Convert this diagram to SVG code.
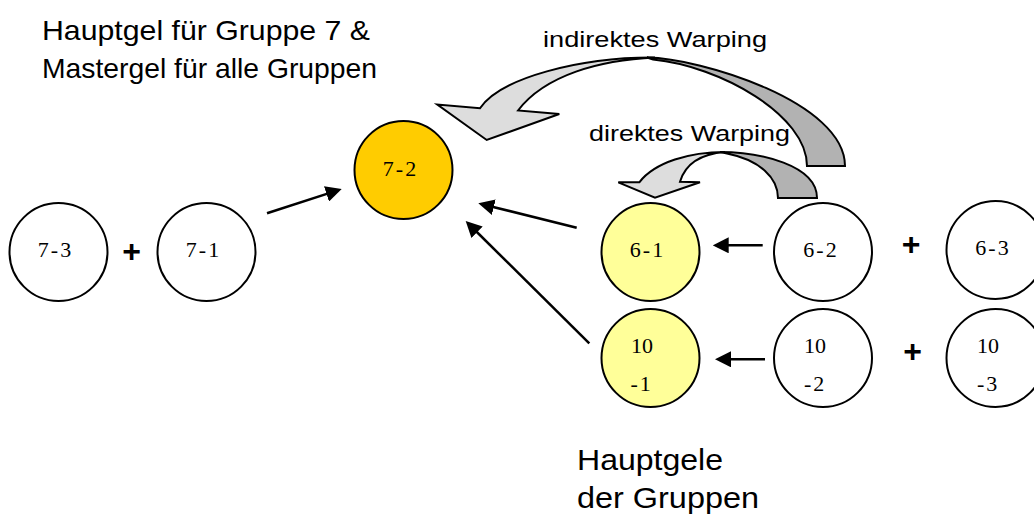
<svg xmlns="http://www.w3.org/2000/svg" width="1034" height="516" viewBox="0 0 1034 516">
<style>
.c{stroke:#000;stroke-width:2}
.w{fill:#fff}
.y{fill:#FFFF99}
.o{fill:#FFCC00}
.n{font-family:"Liberation Serif","Times New Roman",serif;font-size:22px;fill:#000}
.d{letter-spacing:2px}
.m{text-anchor:middle}
.s{font-family:"Liberation Sans",Arial,sans-serif;fill:#000}
.plus{font-family:"Liberation Sans",Arial,sans-serif;font-weight:bold;font-size:32px;text-anchor:middle}
.ln{stroke:#000;stroke-width:2.5;fill:none;marker-end:url(#ah)}
.lt{fill:#DDDDDD;stroke:#000;stroke-width:2;stroke-linejoin:miter}
.dk{fill:#B2B2B2;stroke:#000;stroke-width:2}
</style>
<defs>
<marker id="ah" markerUnits="userSpaceOnUse" viewBox="0 0 16 16" refX="6" refY="8" markerWidth="16" markerHeight="16" orient="auto">
<path d="M0,0 L16,8 L0,16 Z" fill="#000"/>
</marker>
</defs>
<rect width="1034" height="516" fill="#fff"/>
<g id="labels">
<text class="s" x="42" y="40" font-size="28.5" textLength="328" lengthAdjust="spacingAndGlyphs">Hauptgel für Gruppe 7 &amp;</text>
<text class="s" x="42" y="78" font-size="28.5" textLength="335" lengthAdjust="spacingAndGlyphs">Mastergel für alle Gruppen</text>
<text class="s" x="543" y="47" font-size="22" textLength="224" lengthAdjust="spacingAndGlyphs">indirektes Warping</text>
<text class="s" x="589" y="141" font-size="22" textLength="201" lengthAdjust="spacingAndGlyphs">direktes Warping</text>
<text class="s" x="577" y="470" font-size="29" textLength="146" lengthAdjust="spacingAndGlyphs">Hauptgele</text>
<text class="s" x="577" y="508" font-size="29" textLength="182" lengthAdjust="spacingAndGlyphs">der Gruppen</text>
<text class="plus" x="131.5" y="262">+</text>
<text class="plus" x="911" y="254.5">+</text>
<text class="plus" x="912.5" y="362">+</text>
</g>
<g id="warp-arrows">
<g id="indirect-warping">
<path class="dk" d="M647,57.5 C700,58 845,102 845,166 L807,166 C807,115 720,66 653,59.5 Z"/>
<path class="lt" d="M518,110.5 C545,75 600,60 655,57.5 C580,57 500,78 480,108.3 L437.3,104.5 L486.7,140 L559.3,114 Z"/>
</g>
<g id="direct-warping">
<path class="dk" d="M720,152 C760,152 817,165 817,198 L778,198 C778,178 760,160 727,153.5 Z"/>
<path class="lt" d="M680,181.7 C685,165 700,154 725,152 C690,152 655,162 639.3,182.3 L618.3,182.3 L655,197.7 L700,182.3 Z"/>
</g>
</g>
<g id="connectors">
<line class="ln" x1="267" y1="213.3" x2="332.2" y2="192.1"/>
<line class="ln" x1="576.7" y1="227.7" x2="488" y2="205.7"/>
<line class="ln" x1="589.3" y1="343.3" x2="472.8" y2="228"/>
<line class="ln" x1="762.7" y1="245.3" x2="722.7" y2="245.3"/>
<line class="ln" x1="765" y1="359.3" x2="725" y2="359.3"/>
</g>
<g id="n7-3"><circle class="c w" cx="58.5" cy="252" r="49"/><text class="n m d" x="55.5" y="257">7-3</text></g>
<g id="n7-1"><circle class="c w" cx="206.5" cy="252" r="49"/><text class="n m d" x="203.5" y="257">7-1</text></g>
<g id="n7-2"><circle class="c o" cx="403.5" cy="170" r="49"/><text class="n m d" x="400.5" y="176">7-2</text></g>
<g id="n6-1"><circle class="c y" cx="650.5" cy="252" r="49"/><text class="n m d" x="647.5" y="257">6-1</text></g>
<g id="n6-2"><circle class="c w" cx="823" cy="252" r="49"/><text class="n m d" x="821" y="257">6-2</text></g>
<g id="n6-3"><circle class="c w" cx="995.5" cy="250" r="49"/><text class="n m d" x="993" y="255">6-3</text></g>
<g id="n10-1"><circle class="c y" cx="650.5" cy="358" r="49"/><text class="n" x="631" y="353">10</text><text class="n d" x="630.5" y="391">-1</text></g>
<g id="n10-2"><circle class="c w" cx="823" cy="358" r="49"/><text class="n" x="804" y="353">10</text><text class="n d" x="804" y="391">-2</text></g>
<g id="n10-3"><circle class="c w" cx="995.5" cy="358" r="49"/><text class="n" x="977" y="353">10</text><text class="n d" x="977" y="391">-3</text></g>
</svg>
